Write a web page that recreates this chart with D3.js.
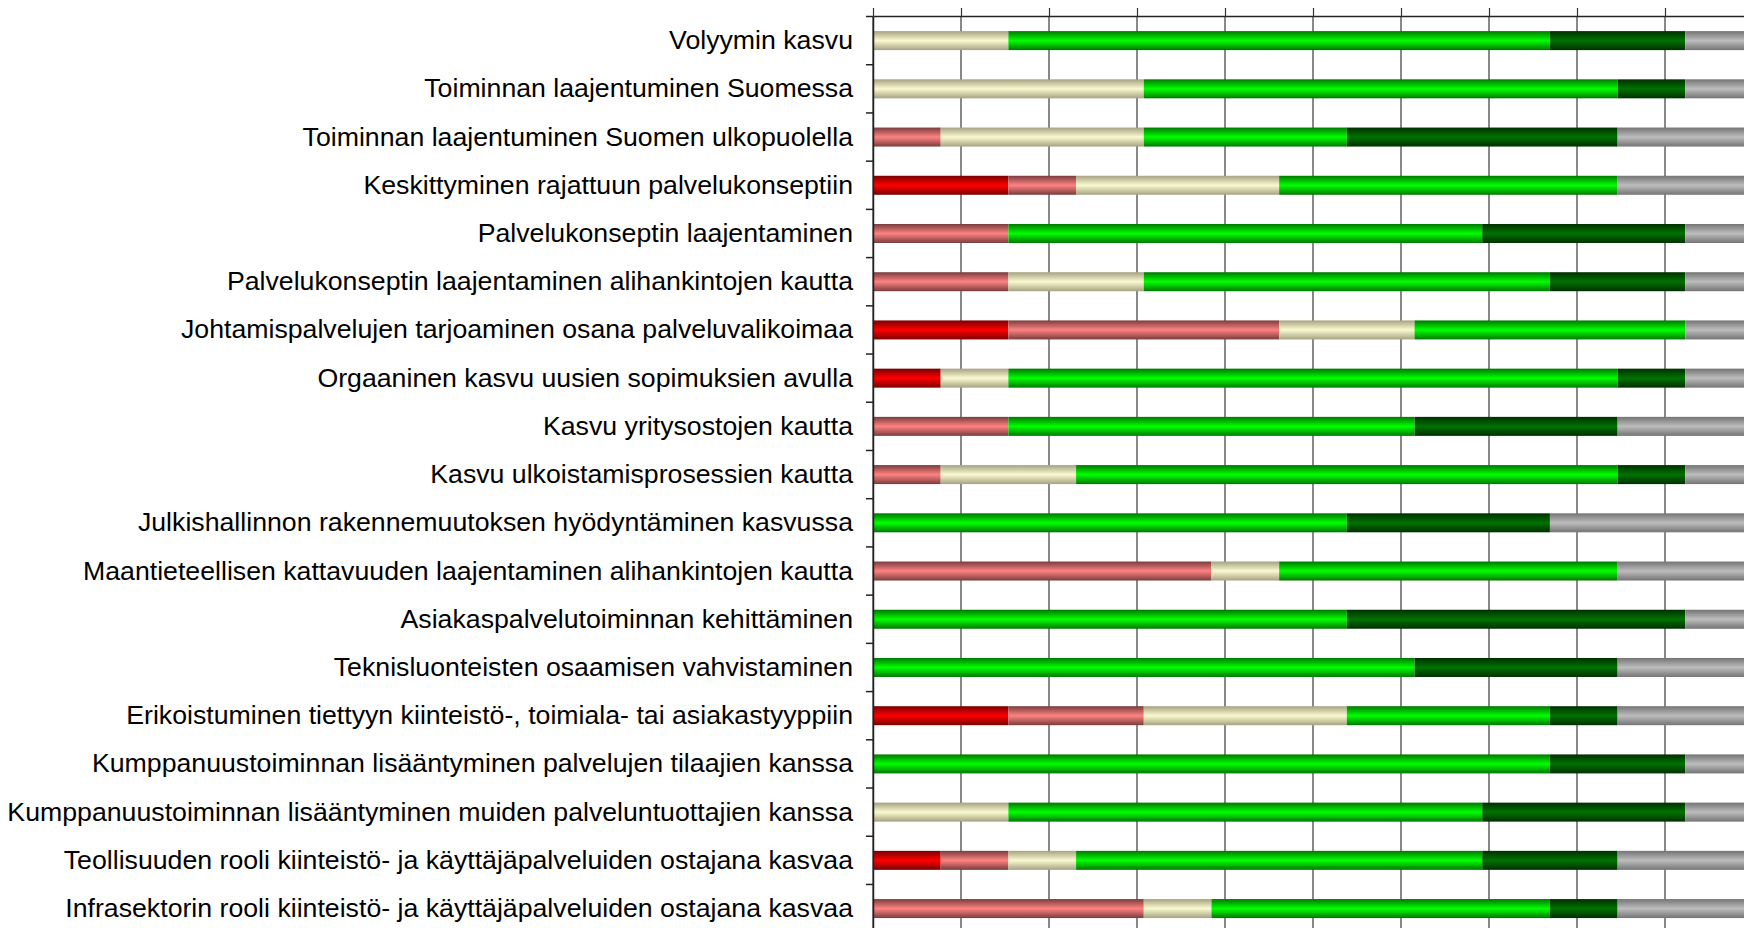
<!DOCTYPE html>
<html>
<head>
<meta charset="utf-8">
<script src="https://cdnjs.cloudflare.com/ajax/libs/d3/7.8.5/d3.min.js"></script>
<style>
  html, body { margin: 0; padding: 0; background: #fff; overflow: hidden; }
  svg { display: block; }
  text { font-family: "Liberation Sans", Arial, sans-serif; }
</style>
</head>
<body>
<script>
// answers per statement, counted in respondents (13 in total)
var categories = [
    "Volyymin kasvu",
    "Toiminnan laajentuminen Suomessa",
    "Toiminnan laajentuminen Suomen ulkopuolella",
    "Keskittyminen rajattuun palvelukonseptiin",
    "Palvelukonseptin laajentaminen",
    "Palvelukonseptin laajentaminen alihankintojen kautta",
    "Johtamispalvelujen tarjoaminen osana palveluvalikoimaa",
    "Orgaaninen kasvu uusien sopimuksien avulla",
    "Kasvu yritysostojen kautta",
    "Kasvu ulkoistamisprosessien kautta",
    "Julkishallinnon rakennemuutoksen hyödyntäminen kasvussa",
    "Maantieteellisen kattavuuden laajentaminen alihankintojen kautta",
    "Asiakaspalvelutoiminnan kehittäminen",
    "Teknisluonteisten osaamisen vahvistaminen",
    "Erikoistuminen tiettyyn kiinteistö-, toimiala- tai asiakastyyppiin",
    "Kumppanuustoiminnan lisääntyminen palvelujen tilaajien kanssa",
    "Kumppanuustoiminnan lisääntyminen muiden palveluntuottajien kanssa",
    "Teollisuuden rooli kiinteistö- ja käyttäjäpalveluiden ostajana kasvaa",
    "Infrasektorin rooli kiinteistö- ja käyttäjäpalveluiden ostajana kasvaa"
];
var s1 = [0, 0, 0, 2, 0, 0, 2, 1, 0, 0, 0, 0, 0, 0, 2, 0, 0, 1, 0];
var s2 = [0, 0, 1, 1, 2, 2, 4, 0, 2, 1, 0, 5, 0, 0, 2, 0, 0, 1, 4];
var s3 = [2, 4, 3, 3, 0, 2, 2, 1, 0, 2, 0, 1, 0, 0, 3, 0, 2, 1, 1];
var s4 = [8, 7, 3, 5, 7, 6, 4, 9, 6, 8, 7, 5, 7, 8, 3, 10, 7, 6, 5];
var s5 = [2, 1, 4, 0, 3, 2, 0, 1, 3, 1, 3, 0, 5, 3, 1, 2, 3, 2, 1];
var s6 = [1, 1, 2, 2, 1, 1, 1, 1, 2, 1, 3, 2, 1, 2, 2, 1, 1, 2, 2];
var series = [s1, s2, s3, s4, s5, s6];
var gridTicks = [0, 10, 20, 30, 40, 50, 60, 70, 80, 90, 100];

var colors = [
    { id: "c1", edge: "#7a0000", mid: "#ff0000" },
    { id: "c2", edge: "#7a3c3c", mid: "#ff8282" },
    { id: "c3", edge: "#a6a282", mid: "#fafad0" },
    { id: "c4", edge: "#007800", mid: "#00ff00" },
    { id: "c5", edge: "#003000", mid: "#007200" },
    { id: "c6", edge: "#747474", mid: "#bdbdbd" }
];

(function () {
    var width = 1744, height = 928,
        plotLeft = 873, plotTop = 16, rowH = 48.22, barH = 19;

    var svg = d3.select('body').append('svg')
        .attr('width', width)
        .attr('height', height);

    var defs = svg.append('defs');
    colors.forEach(function (c) {
        var g = defs.append('linearGradient')
            .attr('id', c.id)
            .attr('x1', 0).attr('y1', 0).attr('x2', 0).attr('y2', 1);
        g.append('stop').attr('offset', '0%').attr('stop-color', c.edge);
        g.append('stop').attr('offset', '50%').attr('stop-color', c.mid);
        g.append('stop').attr('offset', '100%').attr('stop-color', c.edge);
    });

    var x = d3.scaleLinear().domain([0, 100]).range([plotLeft, plotLeft + 880]);
    var y = d3.scaleBand().domain(categories)
        .range([plotTop, plotTop + rowH * categories.length]);
    var yEdge = d3.scaleLinear().domain([0, categories.length])
        .range([plotTop, plotTop + rowH * categories.length]);

    // vertical grid lines
    svg.append('g')
        .selectAll('line')
        .data(gridTicks)
        .enter().append('line')
        .attr('x1', function (d) { return x(d); })
        .attr('x2', function (d) { return x(d); })
        .attr('y1', plotTop)
        .attr('y2', height)
        .attr('stroke', '#3a3a3a')
        .attr('stroke-width', 1.2);

    // stacked bars
    categories.forEach(function (cat, i) {
        var total = d3.sum(series, function (s) { return s[i]; }),
            cum = 0;
        series.forEach(function (s, k) {
            var v = s[i];
            if (v > 0) {
                svg.append('rect')
                    .attr('x', x(cum / total * 100))
                    .attr('y', y(cat) + y.bandwidth() / 2 - barH / 2 + 0.5)
                    .attr('width', x((cum + v) / total * 100) - x(cum / total * 100))
                    .attr('height', barH)
                    .attr('fill', 'url(#' + colors[k].id + ')');
            }
            cum += v;
        });
    });

    // top axis
    svg.append('g')
        .attr('transform', 'translate(0,' + plotTop + ')')
        .call(d3.axisTop(x).tickValues(gridTicks).tickSize(8).tickSizeOuter(0).tickFormat(''))
        .call(function (g) {
            g.select('.domain').attr('stroke', '#222').attr('stroke-width', 1.5);
            g.selectAll('.tick line').attr('stroke', '#333').attr('stroke-width', 1.2);
        });

    // left axis, ticks between categories
    svg.append('g')
        .attr('transform', 'translate(' + plotLeft + ',0)')
        .call(d3.axisLeft(yEdge).tickValues(d3.range(0, categories.length + 1)).tickSize(7).tickSizeOuter(0).tickFormat(''))
        .call(function (g) {
            g.select('.domain').attr('stroke', '#222').attr('stroke-width', 1.5);
            g.selectAll('.tick line').attr('stroke', '#222').attr('stroke-width', 1.5);
        });

    // category labels
    svg.append('g')
        .selectAll('text')
        .data(categories)
        .enter().append('text')
        .attr('x', 853)
        .attr('y', function (d) { return y(d) + y.bandwidth() / 2 + 9; })
        .attr('text-anchor', 'end')
        .attr('font-size', 26.7)
        .attr('fill', '#000')
        .text(function (d) { return d; });
}());
</script>
</body>
</html>
